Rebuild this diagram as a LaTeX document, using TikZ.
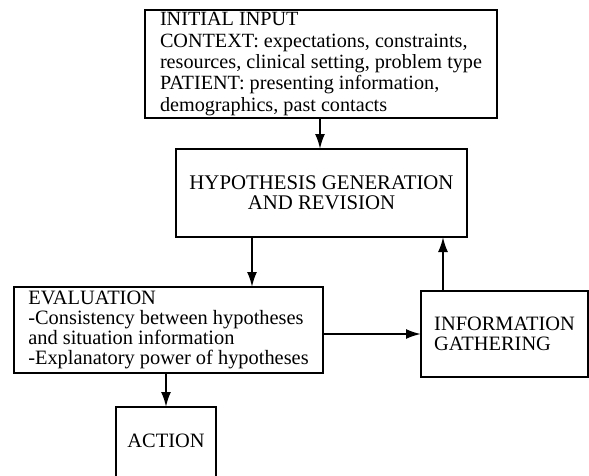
\documentclass[tikz,border=0pt]{standalone}
\usepackage{fontspec}
\setmainfont{Liberation Serif}
\usetikzlibrary{arrows.meta}
\begin{document}
\begin{tikzpicture}[x=1pt,y=-1pt,
  box/.style={draw, line width=2.3pt, inner sep=0pt, outer sep=0pt},
  conn/.style={line width=2pt, -{Latex[length=15pt,width=10pt]}}]
\clip (0,0) rectangle (589,475);
\node[box, minimum width=352pt, minimum height=108pt, align=left, font=\fontsize{20.2}{21.3}\selectfont] (input) at (321,64)
  {INITIAL INPUT\\CONTEXT: expectations, constraints,\\resources, clinical setting, problem type\\PATIENT: presenting information,\\demographics, past contacts};
\node[box, minimum width=291pt, minimum height=88pt, align=center, font=\fontsize{20.8}{20}\selectfont] (hyp) at (321.5,193)
  {HYPOTHESIS GENERATION\\AND REVISION};
\node[box, minimum width=309pt, minimum height=86pt, align=left, font=\fontsize{20.4}{20}\selectfont] (eval) at (168.5,330)
  {EVALUATION\\-Consistency between hypotheses\\and situation information\\-Explanatory power of hypotheses};
\node[box, minimum width=167pt, minimum height=86pt, align=left, font=\fontsize{20.4}{20}\selectfont] (info) at (504.5,334)
  {INFORMATION\\GATHERING};
\node[box, minimum width=100pt, text height=40pt, text depth=35pt, anchor=north, align=center, font=\fontsize{20.4}{20}\selectfont] (action) at (166,407) {ACTION};
\draw[conn] ([xshift=-1pt]input.south) -- ([xshift=-1pt]input.south |- hyp.north);
\draw[conn] ([xshift=-69.5pt]hyp.south) -- ([xshift=-69.5pt]hyp.south |- eval.north);
\draw[conn] (action.north |- eval.south) -- (action.north);
\draw[conn] (eval.east |- info.west) -- (info.west);
\draw[conn] ([xshift=-61.5pt]info.north) -- ([xshift=-61.5pt]info.north |- hyp.south);
\end{tikzpicture}
\end{document}
